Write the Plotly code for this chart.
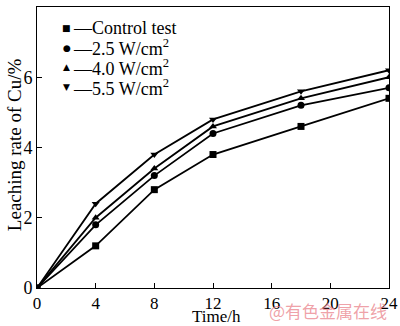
import plotly.graph_objects as go

time_h = [0, 4, 8, 12, 18, 24]
control = [0, 1.2, 2.8, 3.8, 4.6, 5.4]
w25 = [0, 1.8, 3.2, 4.4, 5.2, 5.7]
w40 = [0, 2.0, 3.4, 4.6, 5.4, 6.0]
w55 = [0, 2.4, 3.8, 4.8, 5.6, 6.2]

labels = ["Control test", "2.5 W/cm<sup>2</sup>", "4.0 W/cm<sup>2</sup>", "5.5 W/cm<sup>2</sup>"]
symbols = ["square", "circle", "triangle-up", "triangle-down"]
glyphs = ["■", "●", "▲", "▼"]
values = [control, w25, w40, w55]

SERIF = "Liberation Serif, Times New Roman, serif"

fig = go.Figure()
for name, vals, sym in zip(labels, values, symbols):
    fig.add_trace(go.Scatter(
        x=time_h, y=vals, name=name, mode="lines+markers",
        line=dict(color="black", width=1.8),
        marker=dict(symbol=sym, size=7, color="black"),
        showlegend=False,
    ))

# manual legend in the style of the original (marker, short dash, label)
legend_y = [0.925, 0.855, 0.785, 0.715]
for g, lab, ly in zip(glyphs, labels, legend_y):
    fig.add_annotation(text=g, xref="paper", yref="paper", x=0.085, y=ly,
                       xanchor="center", yanchor="middle", showarrow=False,
                       font=dict(family="DejaVu Sans", size=9, color="black"))
    fig.add_annotation(text="—" + lab, xref="paper", yref="paper", x=0.098, y=ly,
                       xanchor="left", yanchor="middle", showarrow=False,
                       font=dict(family=SERIF, size=18, color="black"))

fig.update_layout(
    width=400, height=326,
    margin=dict(l=37, r=11, t=7, b=38),
    paper_bgcolor="white", plot_bgcolor="white",
    font=dict(family=SERIF, size=18, color="black"),
    showlegend=False,
)
fig.update_xaxes(
    range=[0, 24], tickvals=[0, 4, 8, 12, 16, 20, 24],
    ticks="inside", ticklen=5, tickcolor="black",
    showline=True, linecolor="black", linewidth=1, mirror=True,
    showgrid=False, zeroline=False, tickfont=dict(size=17),
    automargin=False,
)
fig.update_yaxes(
    range=[0, 8], tickvals=[0, 2, 4, 6, 8],
    ticks="inside", ticklen=5, tickcolor="black",
    showline=True, linecolor="black", linewidth=1, mirror=True,
    showgrid=False, zeroline=False, tickfont=dict(size=18),
    automargin=False,
)
fig.add_annotation(
    text="Time/h", xref="paper", yref="paper", x=0.51, y=-0.102,
    xanchor="center", yanchor="middle", showarrow=False,
    font=dict(family=SERIF, size=17, color="black"),
)
fig.add_annotation(
    text="Leaching rate of Cu/%", xref="paper", yref="paper", x=-0.064, y=0.51,
    xanchor="center", yanchor="middle", showarrow=False, textangle=-90,
    font=dict(family=SERIF, size=19, color="black"),
)
fig.add_annotation(
    text="@有色金属在线", xref="paper", yref="paper", x=1.0, y=-0.08,
    xanchor="right", yanchor="middle", showarrow=False,
    font=dict(family="Noto Sans CJK SC", size=17, color="rgba(232,120,130,0.7)"),
)
fig.write_html("out.html")
